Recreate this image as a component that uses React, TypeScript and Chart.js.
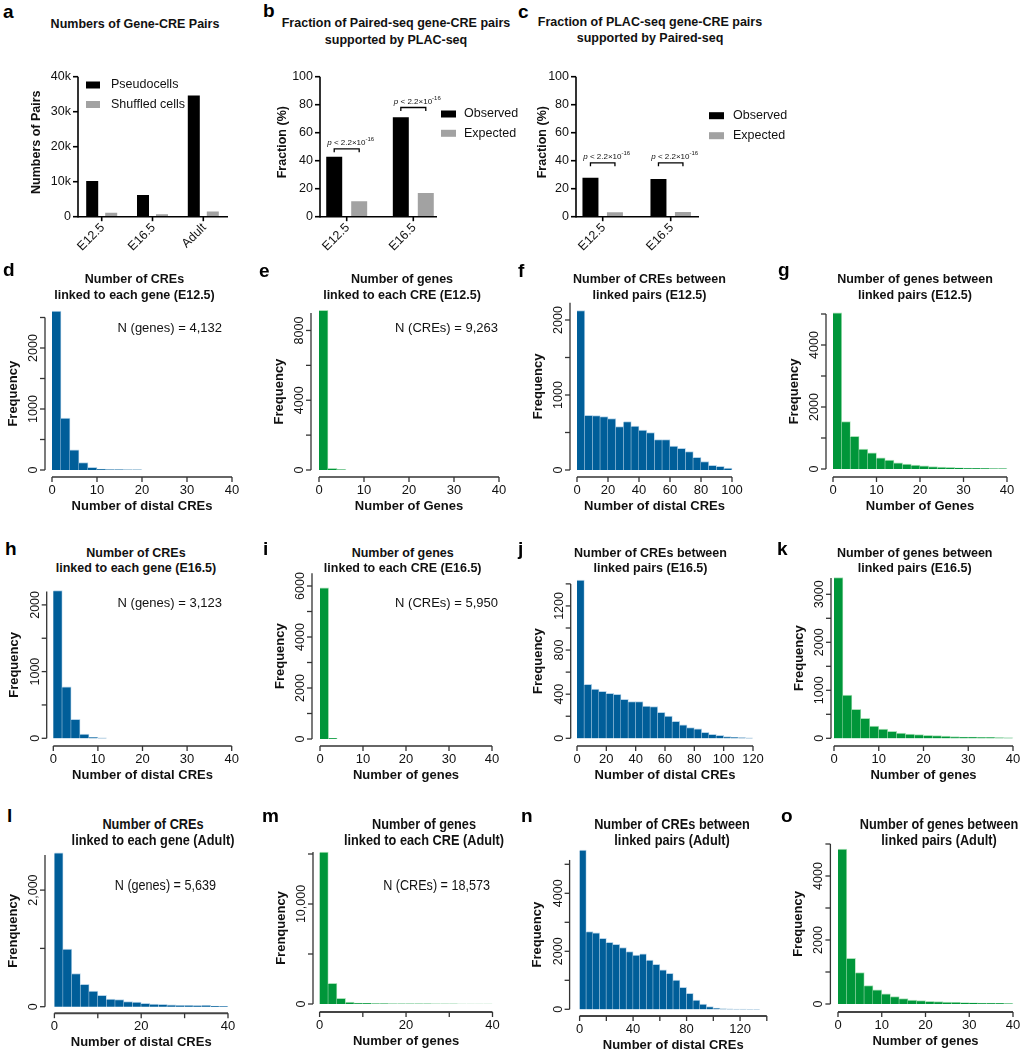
import React, { useEffect, useRef } from "react";
import { Chart, registerables } from "chart.js";

Chart.register(...registerables);

const FONT = '"Liberation Sans", Arial, Helvetica, sans-serif';

// ---------------- data: panel a ----------------
const stageLabels = ["E12.5", "E16.5", "Adult"];
const pseudocellPairs = [10200, 6200, 34600];
const shuffledPairs = [1100, 700, 1500];
const pairsTicks = [0, 10000, 20000, 30000, 40000];

// ---------------- data: panels b, c ----------------
const fracStages = ["E12.5", "E16.5"];
const pairedObserved = [42.9, 71.0];
const pairedExpected = [11.0, 16.9];
const pairedBracket = [48.5, 78];
const placObserved = [27.9, 26.9];
const placExpected = [3.1, 3.3];
const placBracket = [38.5, 38.5];
const fracTicks = [0, 20, 40, 60, 80, 100];

// ---------------- data: histograms ----------------
const dCounts = [2607, 850, 330, 120, 45, 15, 8, 5, 3, 2];
const eCounts = [9150, 90, 23];
const fCounts = [2124, 729, 724, 711, 684, 578, 644, 587, 533, 498, 404, 404, 320, 289, 244, 169, 111, 62, 49, 27];
const gCounts = [5040, 1530, 1050, 640, 520, 360, 290, 200, 160, 130, 100, 80, 65, 50, 40, 30, 24, 18, 14, 10];
const hCounts = [2214, 771, 284, 65, 15, 5];
const iCounts = [5925, 25];
const jCounts = [1435, 489, 447, 426, 408, 399, 353, 332, 332, 293, 287, 236, 202, 154, 121, 97, 85, 54, 36, 27, 15, 9, 6, 3];
const kCounts = [3347, 903, 604, 417, 257, 194, 146, 111, 90, 76, 62, 55, 48, 35, 28, 25, 20, 18, 14, 12];
const lCounts = [2640, 990, 570, 385, 270, 195, 130, 120, 86, 80, 57, 46, 40, 34, 25, 22, 18, 22, 12, 6];
const mCounts = [15200, 2070, 570, 200, 100, 60, 40, 30, 25, 20, 15, 12, 10, 8, 6, 5, 4, 3, 3, 2];
const nCounts = [5490, 2680, 2640, 2450, 2310, 2240, 2130, 1990, 1870, 1910, 1700, 1550, 1360, 1240, 1010, 760, 550, 320, 180, 90, 40, 20, 10, 6, 4, 2, 1];
const oCounts = [4840, 1430, 980, 575, 440, 315, 230, 170, 125, 105, 85, 73, 63, 52, 42, 35, 30, 25, 20, 15];

// tick values
const x40by10 = [0, 10, 20, 30, 40];
const x40by20 = [0, 20, 40];
const x100by20 = [0, 20, 40, 60, 80, 100];
const x120by20 = [0, 20, 40, 60, 80, 100, 120];
const x140by20 = [0, 20, 40, 60, 80, 100, 120, 140];
const x120by40 = [0, 40, 80, 120];

const HISTS: any[] = [
  { key: "d", counts: dCounts, binWidth: 2, xMax: 40, yMax: 2500, xTicks: x40by10, xLabels: x40by10, yTicks: [0, 500, 1000, 1500, 2000, 2500], yLabels: [0, 1000, 2000], color: "blue", xTitle: "Number of distal CREs", yTitle: "Frequency" },
  { key: "e", counts: eCounts, binWidth: 2, xMax: 40, yMax: 9000, xTicks: x40by10, xLabels: x40by10, yTicks: [0, 2000, 4000, 6000, 8000], yLabels: [0, 4000, 8000], color: "green", xTitle: "Number of Genes", yTitle: "Frequency" },
  { key: "f", counts: fCounts, binWidth: 5, xMax: 100, yMax: 2230, xTicks: x100by20, xLabels: x100by20, yTicks: [0, 500, 1000, 1500, 2000], yLabels: [0, 1000, 2000], color: "blue", xTitle: "Number of distal CREs", yTitle: "Frequency" },
  { key: "g", counts: gCounts, binWidth: 2, xMax: 40, yMax: 5000, xTicks: x40by10, xLabels: x40by10, yTicks: [0, 1000, 2000, 3000, 4000, 5000], yLabels: [0, 2000, 4000], color: "green", xTitle: "Number of Genes", yTitle: "Frequency" },
  { key: "h", counts: hCounts, binWidth: 2, xMax: 40, yMax: 2200, xTicks: x40by10, xLabels: x40by10, yTicks: [0, 500, 1000, 1500, 2000], yLabels: [0, 1000, 2000], color: "blue", xTitle: "Number of distal CREs", yTitle: "Frequency" },
  { key: "i", counts: iCounts, binWidth: 2, xMax: 40, yMax: 6500, xTicks: x40by10, xLabels: x40by10, yTicks: [0, 1000, 2000, 3000, 4000, 5000, 6000], yLabels: [0, 2000, 4000, 6000], color: "green", xTitle: "Number of genes", yTitle: "Frequency" },
  { key: "j", counts: jCounts, binWidth: 5, xMax: 120, yMax: 1400, xTicks: x120by20, xLabels: x120by20, yTicks: [0, 200, 400, 600, 800, 1000, 1200, 1400], yLabels: [0, 400, 800, 1200], color: "blue", xTitle: "Number of distal CREs", yTitle: "Frequency" },
  { key: "k", counts: kCounts, binWidth: 2, xMax: 40, yMax: 3340, xTicks: x40by10, xLabels: x40by10, yTicks: [0, 500, 1000, 1500, 2000, 2500, 3000], yLabels: [0, 1000, 2000, 3000], color: "green", xTitle: "Number of genes", yTitle: "Frequency" },
  { key: "l", counts: lCounts, binWidth: 2, xMax: 40, yMax: 2600, xTicks: x40by10, xLabels: x40by20, yTicks: [0, 1000, 2000], yLabels: [0, 2000], comma: true, color: "blue", xTitle: "Number of distal CREs", yTitle: "Frenquency" },
  { key: "m", counts: mCounts, binWidth: 2, xMax: 40, yMax: 15200, xTicks: x40by10, xLabels: x40by20, yTicks: [0, 5000, 10000, 15000], yLabels: [0, 10000], comma: true, color: "green", xTitle: "Number of genes", yTitle: "Frenquency" },
  { key: "n", counts: nCounts, binWidth: 5, xMax: 140, yMax: 5150, xTicks: x140by20, xLabels: x120by40, yTicks: [0, 1000, 2000, 3000, 4000, 5000], yLabels: [0, 2000, 4000], color: "blue", xTitle: "Number of distal CREs", yTitle: "Frequency" },
  { key: "o", counts: oCounts, binWidth: 2, xMax: 40, yMax: 5000, xTicks: x40by10, xLabels: x40by10, yTicks: [0, 1000, 2000, 3000, 4000, 5000], yLabels: [0, 2000, 4000], color: "green", xTitle: "Number of genes", yTitle: "Frequency" },
];

// ---------------- layout (page px) ----------------
const HIST_GEO: any = {
  d: { x0: 52, x1: 232, y0: 470, yPx: 0.061, gapL: 7, gapB: 7 },
  e: { x0: 319, x1: 499, y0: 470, yPx: 0.01744, gapL: 8, gapB: 7 },
  f: { x0: 577, x1: 732, y0: 470, yPx: 0.075, gapL: 7, gapB: 7 },
  g: { x0: 833, x1: 1007, y0: 469, yPx: 0.031, gapL: 7, gapB: 8 },
  h: { x0: 53.3, x1: 231.7, y0: 738.3, yPx: 0.0667, gapL: 6.6, gapB: 7.7 },
  i: { x0: 320, x1: 492, y0: 739, yPx: 0.0255, gapL: 8, gapB: 7 },
  j: { x0: 577, x1: 753, y0: 738.3, yPx: 0.1103, gapL: 6.3, gapB: 7.7 },
  k: { x0: 834, x1: 1013, y0: 738.3, yPx: 0.048, gapL: 3, gapB: 7.7 },
  l: { x0: 54.4, x1: 228, y0: 1006.7, yPx: 0.0583, gapL: 9.4, gapB: 6.5 },
  m: { x0: 319.6, x1: 492.5, y0: 1004, yPx: 0.01, gapL: 6.6, gapB: 8 },
  n: { x0: 579.6, x1: 766.8, y0: 1009.3, yPx: 0.029, gapL: 10, gapB: 6.7 },
  o: { x0: 838, x1: 1013, y0: 1004, yPx: 0.032, gapL: 7.6, gapB: 8 },
};

const COLORS: any = {
  blue: { fill: "#005e99", edge: "rgba(120,175,215,0.55)" },
  green: { fill: "#00963a", edge: "rgba(100,200,125,0.55)" },
};

const TITLES: any[] = [
  { lines: ["Numbers of Gene-CRE Pairs"], cx: 135, cy: 24, gap: 16 },
  { lines: ["Fraction of Paired-seq gene-CRE pairs", "supported by PLAC-seq"], cx: 396, cy: 23.5, gap: 16.5 },
  { lines: ["Fraction of PLAC-seq gene-CRE pairs", "supported by Paired-seq"], cx: 650, cy: 22.5, gap: 15.5 },
  { lines: ["Number of CREs", "linked to each gene (E12.5)"], cx: 134.5, cy: 279.5, gap: 16 },
  { lines: ["Number of genes", "linked to each CRE (E12.5)"], cx: 402, cy: 279.5, gap: 16 },
  { lines: ["Number of CREs between", "linked pairs (E12.5)"], cx: 649.5, cy: 279.5, gap: 16 },
  { lines: ["Number of genes between", "linked pairs (E12.5)"], cx: 915, cy: 279.5, gap: 16 },
  { lines: ["Number of CREs", "linked to each gene (E16.5)"], cx: 136, cy: 553, gap: 15.5 },
  { lines: ["Number of genes", "linked to each CRE (E16.5)"], cx: 402.7, cy: 553, gap: 15.5 },
  { lines: ["Number of CREs between", "linked pairs (E16.5)"], cx: 650.5, cy: 553, gap: 15.5 },
  { lines: ["Number of genes between", "linked pairs (E16.5)"], cx: 914.7, cy: 553, gap: 15.5 },
  { lines: ["Number of CREs", "linked to each gene (Adult)"], cx: 153.4, cy: 824, gap: 16, cond: true },
  { lines: ["Number of genes", "linked to each CRE (Adult)"], cx: 424, cy: 824, gap: 16, cond: true },
  { lines: ["Number of CREs between", "linked pairs (Adult)"], cx: 672, cy: 824, gap: 16, cond: true },
  { lines: ["Number of genes between", "linked pairs (Adult)"], cx: 938.5, cy: 824, gap: 16, cond: true },
];

const LETTERS: any[] = [
  ["a", 3, 18], ["b", 263, 17.5], ["c", 518, 18],
  ["d", 3, 276], ["e", 259, 277], ["f", 518, 277], ["g", 778, 276],
  ["h", 5, 555], ["i", 263, 555], ["j", 518, 555], ["k", 777, 555],
  ["l", 7, 822], ["m", 262, 822], ["n", 521, 822], ["o", 781, 822],
];

const NOTES: any[] = [
  { text: "N (genes) = 4,132", rx: 222, cy: 327 },
  { text: "N (CREs) = 9,263", rx: 498, cy: 327.3 },
  { text: "N (genes) = 3,123", rx: 222, cy: 602 },
  { text: "N (CREs) = 5,950", rx: 498, cy: 602 },
  { text: "N (genes) = 5,639", rx: 216, cy: 885, cond: true },
  { text: "N (CREs) = 18,573", rx: 490, cy: 885, cond: true },
];

// ---------------- plugin: R / Prism style axes ----------------
const fmtComma = (v: number) => v.toLocaleString("en-US");

const rAxes = {
  id: "rAxes",
  afterDatasetsDraw(chart: any, _args: any, o: any) {
    if (!o || !o.mode) return;
    const ctx = chart.ctx;
    const xs = chart.scales.x;
    const ys = chart.scales.y;
    const ca = chart.chartArea;
    const line = (x1: number, y1: number, x2: number, y2: number) => {
      ctx.beginPath();
      ctx.moveTo(x1, y1);
      ctx.lineTo(x2, y2);
      ctx.stroke();
    };
    ctx.save();
    const y0 = ys.getPixelForValue(0);
    const yTop = ys.getPixelForValue(ys.max);
    ctx.fillStyle = "#111";
    if (o.mode === "hist") {
      const ax = ca.left - o.gapL;
      ctx.strokeStyle = "#333";
      ctx.lineWidth = 1.3;
      line(ax, y0, ax, yTop);
      ys.ticks.forEach((t: any) => {
        const py = ys.getPixelForValue(t.value);
        line(ax - 5, py, ax, py);
      });
      ctx.font = `12.5px ${FONT}`;
      ctx.textAlign = "center";
      ctx.textBaseline = "middle";
      o.yLabels.forEach((v: number) => {
        const py = ys.getPixelForValue(v);
        ctx.save();
        ctx.translate(ax - 11.5, py);
        ctx.rotate(-Math.PI / 2);
        ctx.fillText(o.comma ? fmtComma(v) : String(v), 0, 0);
        ctx.restore();
      });
      const ay = y0 + o.gapB;
      const xt = xs.ticks.map((t: any) => xs.getPixelForValue(t.value));
      ctx.lineWidth = o.thickX ? 2 : 1.3;
      ctx.strokeStyle = o.thickX ? "#444" : "#333";
      line(xt[0], ay, xt[xt.length - 1], ay);
      ctx.lineWidth = 1.3;
      ctx.strokeStyle = "#333";
      xt.forEach((px: number) => line(px, ay, px, ay + 5));
      ctx.font = `13px ${FONT}`;
      o.xLabels.forEach((v: number) => ctx.fillText(String(v), xs.getPixelForValue(v), ay + 13.5));
      ctx.font = `bold 13px ${FONT}`;
      ctx.fillText(o.xTitle, (xt[0] + xt[xt.length - 1]) / 2, ay + 29);
      ctx.save();
      ctx.translate(ax - 32, (y0 + yTop) / 2);
      ctx.rotate(-Math.PI / 2);
      ctx.fillText(o.yTitle, 0, 0);
      ctx.restore();
    } else {
      const ax = ca.left + o.yAxisDx;
      ctx.strokeStyle = "#000";
      ctx.lineWidth = 1.6;
      line(ax, y0 + 0.8, ax, yTop);
      line(ax, y0, ca.right + o.xAxisEndDx, y0);
      ctx.font = `12.5px ${FONT}`;
      ctx.textAlign = "right";
      ctx.textBaseline = "middle";
      ys.ticks.forEach((t: any) => {
        const py = ys.getPixelForValue(t.value);
        line(ax - 5, py, ax, py);
        ctx.fillText(o.yFmt(t.value), ax - 7, py);
      });
      xs.ticks.forEach((_t: any, i: number) => {
        const px = xs.getPixelForTick(i);
        line(px, y0, px, y0 + 4.5);
        ctx.save();
        ctx.translate(px + 1, y0 + 9);
        ctx.rotate(-Math.PI / 4);
        ctx.fillText(chart.data.labels[i], 0, 0);
        ctx.restore();
      });
      ctx.font = `bold 12.5px ${FONT}`;
      ctx.textAlign = "center";
      ctx.save();
      ctx.translate(ax + o.yTitleDx, (y0 + yTop) / 2 + o.yTitleDy);
      ctx.rotate(-Math.PI / 2);
      ctx.fillText(o.yTitle, 0, 0);
      ctx.restore();
      // legend
      const lg = o.legend;
      ctx.font = `12.5px ${FONT}`;
      ctx.textAlign = "left";
      chart.data.datasets.forEach((ds: any, k: number) => {
        const cy = lg.y + k * lg.gap;
        ctx.fillStyle = ds.backgroundColor;
        ctx.fillRect(lg.x, cy - lg.h / 2, lg.w, lg.h);
        ctx.fillStyle = "#111";
        ctx.fillText(ds.label, lg.x + lg.tx, cy);
      });
      // significance brackets
      if (o.brackets) {
        const m0 = chart.getDatasetMeta(0);
        const m1 = chart.getDatasetMeta(1);
        ctx.lineWidth = 1.3;
        o.brackets.forEach((bv: number, i: number) => {
          const xa = m0.data[i].x;
          const xb = m1.data[i].x;
          const by = ys.getPixelForValue(bv);
          ctx.beginPath();
          ctx.moveTo(xa, by + 3.5);
          ctx.lineTo(xa, by);
          ctx.lineTo(xb, by);
          ctx.lineTo(xb, by + 3.5);
          ctx.stroke();
          const f1 = `italic 8px ${FONT}`;
          const f2 = `8px ${FONT}`;
          const f3 = `6px ${FONT}`;
          ctx.font = f1;
          const w1 = ctx.measureText("p").width;
          ctx.font = f2;
          const w2 = ctx.measureText(" < 2.2×10").width;
          ctx.font = f3;
          const w3 = ctx.measureText("-16").width;
          const tot = w1 + w2 + w3;
          let sx = (xa + xb) / 2 + 4 - tot / 2;
          const base = by - 4;
          ctx.textBaseline = "alphabetic";
          ctx.font = f1;
          ctx.fillText("p", sx, base);
          sx += w1;
          ctx.font = f2;
          ctx.fillText(" < 2.2×10", sx, base);
          sx += w2;
          ctx.font = f3;
          ctx.fillText("-16", sx, base - 3.5);
          ctx.textBaseline = "middle";
        });
      }
    }
    ctx.restore();
  },
};

// ---------------- chart builders ----------------
function histSetup(h: any) {
  const g = HIST_GEO[h.key];
  const yTopPx = g.y0 - h.yMax * g.yPx;
  const maxBarPx = g.y0 - Math.max(...h.counts) * g.yPx;
  const left = Math.floor(g.x0 - g.gapL - 50);
  const top = Math.floor(Math.min(yTopPx, maxBarPx) - 8);
  const right = Math.ceil(g.x1 + 24);
  const bottom = Math.ceil(g.y0 + g.gapB + 42);
  const box = { left, top, width: right - left, height: bottom - top };
  const col = COLORS[h.color];
  const config: any = {
    type: "bar",
    data: {
      datasets: [
        {
          data: h.counts.map((c: number, i: number) => ({ x: (i + 0.5) * h.binWidth, y: c })),
          backgroundColor: col.fill,
          borderColor: col.edge,
          borderWidth: { top: 1, right: 0.8, left: 0, bottom: 0 },
          borderSkipped: "start",
          barPercentage: 1,
          categoryPercentage: 1,
          clip: false,
        },
      ],
    },
    options: {
      responsive: false,
      maintainAspectRatio: false,
      animation: false,
      events: [],
      layout: {
        padding: { left: g.x0 - left, right: right - g.x1, top: yTopPx - top, bottom: bottom - g.y0 },
      },
      plugins: {
        legend: { display: false },
        tooltip: { enabled: false },
        rAxes: {
          mode: "hist",
          gapL: g.gapL,
          gapB: g.gapB,
          yLabels: h.yLabels,
          xLabels: h.xLabels,
          comma: !!h.comma,
          xTitle: h.xTitle,
          yTitle: h.yTitle,
          thickX: ["l", "m", "n", "o"].includes(h.key),
        },
      },
      scales: {
        x: {
          type: "linear",
          min: 0,
          max: h.xMax,
          offset: false,
          display: false,
          ticks: { display: false },
          afterBuildTicks: (s: any) => {
            s.ticks = h.xTicks.map((v: number) => ({ value: v }));
          },
        },
        y: {
          type: "linear",
          min: 0,
          max: h.yMax,
          display: false,
          ticks: { display: false },
          afterBuildTicks: (s: any) => {
            s.ticks = h.yTicks.map((v: number) => ({ value: v }));
          },
        },
      },
    },
    plugins: [rAxes],
  };
  return { box, config };
}

function barSetup(p: any) {
  const box = p.box;
  const config: any = {
    type: "bar",
    data: {
      labels: p.labels,
      datasets: [
        { label: p.names[0], data: p.s1, backgroundColor: "#000000", barPercentage: p.barPct, categoryPercentage: p.catPct },
        { label: p.names[1], data: p.s2, backgroundColor: "#a2a2a2", barPercentage: p.barPct, categoryPercentage: p.catPct },
      ],
    },
    options: {
      responsive: false,
      maintainAspectRatio: false,
      animation: false,
      events: [],
      layout: {
        padding: {
          left: p.area.x0 - box.left,
          right: box.left + box.width - p.area.x1,
          top: p.area.yTop - box.top,
          bottom: box.top + box.height - p.area.y0,
        },
      },
      plugins: {
        legend: { display: false },
        tooltip: { enabled: false },
        rAxes: {
          mode: "bar",
          yAxisDx: p.yAxisDx,
          xAxisEndDx: p.xAxisEndDx,
          yTitle: p.yTitle,
          yTitleDx: p.yTitleDx,
          yTitleDy: -4.5,
          yFmt: p.yFmt,
          legend: { x: p.legend.x - box.left, y: p.legend.y - box.top, gap: p.legend.gap, w: p.legend.w, h: 7, tx: p.legend.tx },
          brackets: p.brackets,
        },
      },
      scales: {
        x: { type: "category", offset: true, display: false, ticks: { display: false } },
        y: {
          type: "linear",
          min: 0,
          max: p.ticks[p.ticks.length - 1],
          display: false,
          ticks: { display: false },
          afterBuildTicks: (s: any) => {
            s.ticks = p.ticks.map((v: number) => ({ value: v }));
          },
        },
      },
    },
    plugins: [rAxes],
  };
  return { box, config };
}

const BARS: any[] = [
  {
    labels: stageLabels, names: ["Pseudocells", "Shuffled cells"], s1: pseudocellPairs, s2: shuffledPairs, ticks: pairsTicks,
    yFmt: (v: number) => (v === 0 ? "0" : `${v / 1000}k`), yTitle: "Numbers of Pairs",
    box: { left: 0, top: 60, width: 258, height: 215 },
    area: { x0: 76.3, x1: 228.7, yTop: 76.7, y0: 216.7 },
    yAxisDx: 1.7, xAxisEndDx: -0.7, yTitleDx: -41, catPct: 0.748, barPct: 0.632,
    legend: { x: 86, y: 85, gap: 19.5, w: 14, tx: 25 },
  },
  {
    labels: fracStages, names: ["Observed", "Expected"], s1: pairedObserved, s2: pairedExpected, ticks: fracTicks,
    yFmt: (v: number) => String(v), yTitle: "Fraction (%)", brackets: pairedBracket,
    box: { left: 262, top: 60, width: 262, height: 215 },
    area: { x0: 313.4, x1: 446.6, yTop: 76.7, y0: 216.7 },
    yAxisDx: 6.6, xAxisEndDx: -9.6, yTitleDx: -37, catPct: 0.75, barPct: 0.64,
    legend: { x: 441, y: 114, gap: 19.3, w: 15, tx: 23 },
  },
  {
    labels: fracStages, names: ["Observed", "Expected"], s1: placObserved, s2: placExpected, ticks: fracTicks,
    yFmt: (v: number) => String(v), yTitle: "Fraction (%)", brackets: placBracket,
    box: { left: 524, top: 60, width: 290, height: 215 },
    area: { x0: 568.7, x1: 704.7, yTop: 76.7, y0: 216.7 },
    yAxisDx: 7.3, xAxisEndDx: -5.7, yTitleDx: -33, catPct: 0.72, barPct: 0.653,
    legend: { x: 709, y: 115.7, gap: 20, w: 15, tx: 24 },
  },
];

function ChartCanvas({ setup }: any) {
  const ref = useRef<HTMLCanvasElement>(null);
  useEffect(() => {
    const chart = new Chart(ref.current as HTMLCanvasElement, setup.config);
    return () => chart.destroy();
  }, []);
  const b = setup.box;
  return (
    <canvas
      ref={ref}
      width={b.width}
      height={b.height}
      style={{ position: "absolute", left: b.left, top: b.top, width: b.width, height: b.height }}
    />
  );
}

function Txt({ x, y, text, size, bold, align, sx }: any) {
  const a = align || "left";
  const tx = a === "center" ? "-50%" : a === "right" ? "-100%" : "0";
  return (
    <div
      style={{
        position: "absolute",
        left: x,
        top: y - 0.4885 * size,
        fontFamily: FONT,
        fontSize: size,
        fontWeight: bold ? 700 : 400,
        lineHeight: `${size}px`,
        whiteSpace: "nowrap",
        color: "#111",
        transform: `translateX(${tx}) scaleX(${sx || 1})`,
        transformOrigin: a === "center" ? "center" : a === "right" ? "right" : "left",
      }}
    >
      {text}
    </div>
  );
}

const barSetups = BARS.map(barSetup);
const histSetups = HISTS.map(histSetup);

export default function App() {
  return (
    <div style={{ position: "absolute", left: 0, top: 0, width: 1022, height: 1050, background: "#fff", overflow: "hidden" }}>
      {barSetups.map((s, i) => (
        <ChartCanvas key={"b" + i} setup={s} />
      ))}
      {histSetups.map((s, i) => (
        <ChartCanvas key={"h" + i} setup={s} />
      ))}
      {TITLES.map((t, i) =>
        t.lines.map((ln: string, k: number) => (
          <Txt key={`t${i}-${k}`} x={t.cx} y={t.cy + k * t.gap} text={ln} size={t.cond ? 14 : 12.5} bold align="center" sx={t.cond ? 0.91 : 1} />
        ))
      )}
      {NOTES.map((n, i) => (
        <Txt key={"n" + i} x={n.rx} y={n.cy} text={n.text} size={n.cond ? 14 : 13} align="right" sx={n.cond ? 0.9 : 1} />
      ))}
      {LETTERS.map(([ch, x, base]: any) => (
        <div
          key={ch}
          style={{
            position: "absolute",
            left: x,
            top: base - 0.8465 * 19,
            fontFamily: FONT,
            fontSize: 19,
            fontWeight: 700,
            lineHeight: "19px",
            color: "#000",
          }}
        >
          {ch}
        </div>
      ))}
    </div>
  );
}
